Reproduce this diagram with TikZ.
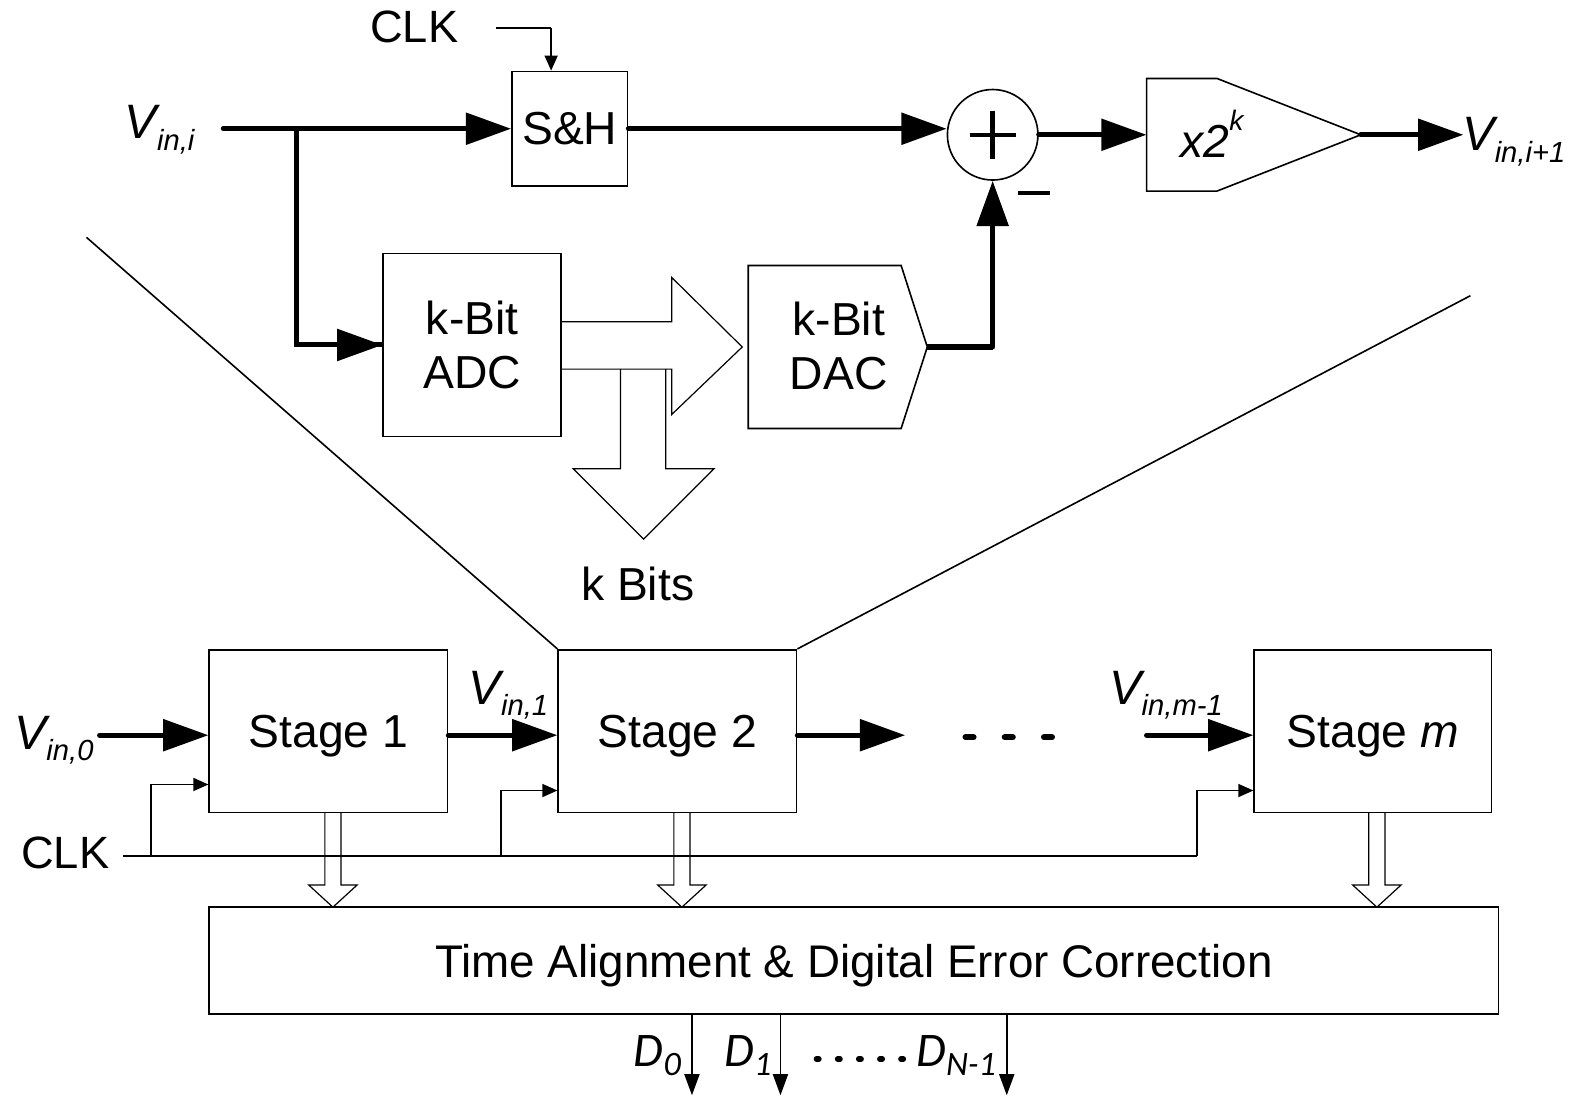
\documentclass[tikz,border=0pt]{standalone}
\usepackage{fontspec}
\setmainfont{Liberation Sans}
\newfontfamily\carl{Carlito}
\usetikzlibrary{arrows.meta}
\newcommand{\fsz}[1]{\fontsize{#1}{#1}\selectfont}
\newcommand{\vlab}[1]{\itshape\fsz{48}V\raisebox{-0.24em}{\fsz{29}#1}}
\newcommand{\dlab}[1]{\carl\itshape\fsz{48}D\raisebox{-0.2em}{\fsz{34}#1}}
\tikzset{
  box/.style={draw, line width=1.6pt, inner sep=0pt, align=center, font=\fontsize{46}{54}\selectfont},
  bigarrow/.style={line width=5pt, line cap=round, -{Triangle[length=45pt,width=31pt]}},
  thinarrow/.style={line width=1.6pt, -{Triangle[length=15pt,width=13pt]}},
  thinline/.style={line width=1.6pt},
  outarrow/.style={line width=1.6pt, -{Triangle[length=21pt,width=15pt]}},
  hollow/.style={draw, line width=1.2pt, line join=miter},
  lab/.style={inner sep=0pt, anchor=base west},
  pill/.style={line width=6pt, line cap=round},
}
\begin{document}
\begin{tikzpicture}[x=1pt,y=-1pt]
\useasboundingbox (0,0) rectangle (1568,1090);

% ---------- top: stage detail ----------
\node[lab, font=\fsz{45}] (clktop) at (368,42) {CLK};
\node[box, minimum width=115pt, minimum height=114pt, text depth=0pt] (sh) at (566.5,128) {S\&H};
\coordinate (clkA) at (493,28);
\coordinate (clkB) at (548,28);
\draw[thinline] (clkA) -- (clkB);
\draw[thinarrow] (clkB) -- (clkB |- sh.north);

\node[lab] (vini) at (124,138) {\vlab{in,i}};
\coordinate (vinA) at (222,128);
\coordinate (br) at (295,128);
\draw[bigarrow] (vinA) -- (sh.west);

\node[box, minimum width=177pt, minimum height=182pt] (adc) at (469.5,343) {k-Bit\\ADC};
\draw[line width=5pt] (br) |- (adc.west);
\draw[bigarrow] (br |- adc.west) -- (adc.west);

\node[draw, circle, line width=1.6pt, minimum size=90pt, inner sep=0pt] (add) at (987,134) {};
\draw[line width=4.5pt] (add.center) ++(0,-24) -- ++(0,48);
\draw[line width=4.5pt] (add.center) ++(-23,0) -- ++(46,0);
\draw[bigarrow] (sh.east) -- (add.west |- sh.east);
\node[inner sep=0pt] (minus) at (1028,192) {};
\draw[line width=4.5pt] (1012,192) -- (1044,192);

% amplifier
\coordinate (ampin) at (1140,134);
\coordinate (amptip) at (1353,134);
\draw[line width=1.6pt, line join=miter] (1140,78) -- (1210,78) -- (amptip) -- (1210,190) -- (1140,190) -- cycle;
\node[inner sep=0pt, anchor=base, font=\fsz{46}\itshape] (gain) at (1205,157) {x2\raisebox{0.6em}{\fsz{28}k}};
\draw[bigarrow] (add.east) -- (ampin);
\coordinate (voutA) at (1455,134);
\draw[bigarrow] (amptip) -- (voutA);
\node[lab] (vout) at (1454,150) {\vlab{in,i+1}};

% DAC
\coordinate (dactip) at (922,345);
\draw[line width=1.6pt, line join=miter] (744,264) -- (896,264) -- (dactip) -- (896,426) -- (744,426) -- cycle;
\node[inner sep=0pt, align=center, font=\fontsize{46}{54}\selectfont] (dac) at (834,344) {k-Bit\\DAC};
\draw[line width=5pt] (dactip) -- (dactip -| add.south);
\draw[bigarrow] (dactip -| add.south) -- (add.south);

% hollow arrows
\draw[hollow] (adc.east |- 0,320) -- (668,320) -- (668,276) -- (738,345) -- (668,412) -- (668,367) -- (adc.east |- 0,367);
\draw[hollow] (617,367) -- (617,466) -- (570,466) -- (640,536) -- (710,466) -- (662,466) -- (662,367);
\node[inner sep=0pt, anchor=base, font=\fsz{46}] (kbits) at (634,597) {k Bits};

% ---------- bottom: pipeline ----------
\node[box, minimum width=237pt, minimum height=162pt, text depth=0pt] (s1) at (326.5,727) {Stage 1};
\node[box, minimum width=237pt, minimum height=162pt, text depth=0pt] (s2) at (673.5,727) {Stage 2};
\node[box, minimum width=236pt, minimum height=162pt, text depth=0pt] (sm) at (1365,727) {Stage \textit{m}};
\node[box, minimum width=1282pt, minimum height=106pt, text depth=0pt, font=\fsz{45.5}] (dec) at (849,955) {Time Alignment \& Digital Error Correction};

\coordinate (dl) at (86,236);
\coordinate (dr) at (1462,294);
\draw[thinline] (dl) -- (s2.north west);
\draw[thinline] (dr) -- (s2.north east);

\coordinate (row) at (0,731);
\node[lab] (vin0) at (14,745) {\vlab{in,0}};
\coordinate (v0A) at (99,731);
\draw[bigarrow] (v0A) -- (v0A -| s1.west);
\draw[bigarrow] (s1.east |- row) -- (s2.west |- row);
\node[lab] (vin1) at (466,700) {\vlab{in,1}};
\coordinate (s2out) at (900,731);
\draw[bigarrow] (s2.east |- row) -- (s2out);
\node[inner sep=0pt] (dots) at (1003,733) {};
\draw[pill] (960,733) -- (968,733);
\draw[pill] (999,733) -- (1007,733);
\draw[pill] (1038,733) -- (1046,733);
\coordinate (smin) at (1140,731);
\draw[bigarrow] (smin) -- (smin -| sm.west);
\node[lab] (vinm) at (1103,700) {\vlab{in,m-1}};

% clock distribution
\node[lab, font=\fsz{45}] (clkbot) at (21,864) {CLK};
\coordinate (clkC) at (122,851);
\coordinate (c1) at (150,851);
\coordinate (c2) at (498,851);
\coordinate (cm) at (1190,851);
\draw[thinline] (clkC) -- (cm);
\draw[thinarrow] (c1) |- (s1.west |- 0,780);
\draw[thinarrow] (c2) |- (s2.west |- 0,786);
\draw[thinarrow] (cm) |- (sm.west |- 0,786);

% small hollow arrows
\foreach \n/\x in {h1/331, h2/678, hm/1369}{
  \draw[hollow] (\x-8,808) -- (\x-8,880) -- (\x-24,880) -- (\x,902) -- (\x+24,880) -- (\x+8,880) -- (\x+8,808);
}

% outputs
\coordinate (o0) at (688,1089);
\coordinate (o1) at (776,1089);
\coordinate (on) at (1001,1089);
\draw[outarrow] (dec.south -| o0) -- (o0);
\draw[outarrow] (dec.south -| o1) -- (o1);
\draw[outarrow] (dec.south -| on) -- (on);
\node[lab] (d0) at (630,1060) {\dlab{0}};
\node[lab] (d1) at (720,1060) {\dlab{1}};
\node[lab] (dn) at (911,1060) {\dlab{N-1}};
\node[inner sep=0pt] (ddots) at (855,1053) {};
\foreach \x in {813,834,855,876,897}{
  \draw[line width=5.5pt, line cap=round] (\x-1.2,1053) -- (\x+1.2,1053);
}
\end{tikzpicture}
\end{document}
